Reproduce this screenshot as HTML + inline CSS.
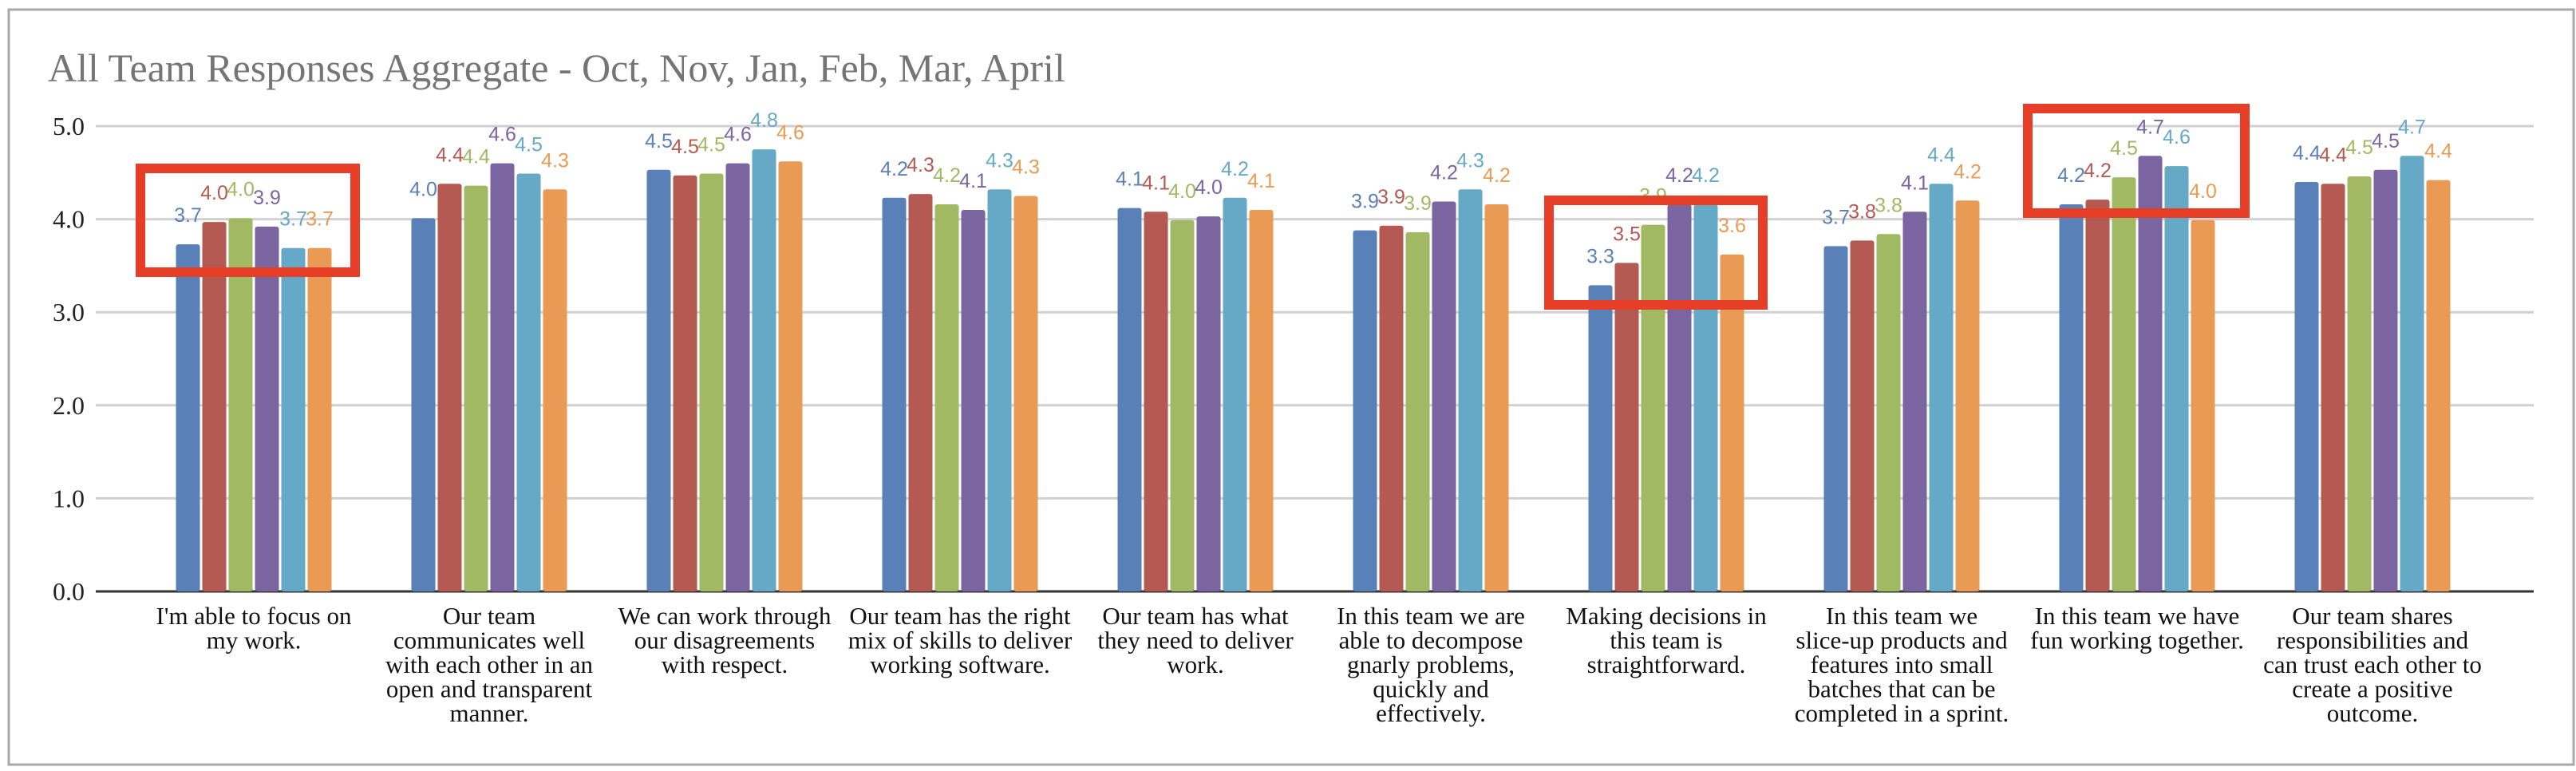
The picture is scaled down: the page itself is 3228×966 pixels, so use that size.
<!DOCTYPE html>
<html><head><meta charset="utf-8">
<style>
html,body{margin:0;padding:0;background:#fff;}
svg{display:block;}
</style></head>
<body>
<svg id="chart" width="3228" height="966" viewBox="0 0 3228 966" xmlns="http://www.w3.org/2000/svg">
<rect x="11" y="12" width="3214" height="946" fill="#fff" stroke="#a8a8a8" stroke-width="3"/>
<text x="60" y="102" font-family="Liberation Serif, serif" font-size="50" fill="#757575">All Team Responses Aggregate - Oct, Nov, Jan, Feb, Mar, April</text>
<g id="grid"></g><g id="bars"></g><g id="labels"></g><g id="xlabels"></g>
<g id="boxes">
<rect x="176" y="211" width="269" height="130" fill="none" stroke="#e63e27" stroke-width="12"/>
<rect x="1941" y="251" width="268" height="131" fill="none" stroke="#e63e27" stroke-width="12"/>
<rect x="2541" y="136" width="272" height="131" fill="none" stroke="#e63e27" stroke-width="12"/>
</g>
</svg>
<script>
const categories = [
 ["I'm able to focus on","my work."],
 ["Our team","communicates well","with each other in an","open and transparent","manner."],
 ["We can work through","our disagreements","with respect."],
 ["Our team has the right","mix of skills to deliver","working software."],
 ["Our team has what","they need to deliver","work."],
 ["In this team we are","able to decompose","gnarly problems,","quickly and","effectively."],
 ["Making decisions in","this team is","straightforward."],
 ["In this team we","slice-up products and","features into small","batches that can be","completed in a sprint."],
 ["In this team we have","fun working together."],
 ["Our team shares","responsibilities and","can trust each other to","create a positive","outcome."]
];
const seriesNames = ["Oct","Nov","Jan","Feb","Mar","April"];
const octValues   = [3.73,4.01,4.53,4.23,4.12,3.88,3.29,3.71,4.16,4.40];
const novValues   = [3.97,4.38,4.47,4.27,4.08,3.93,3.53,3.77,4.21,4.38];
const janValues   = [4.01,4.36,4.49,4.16,3.99,3.86,3.94,3.84,4.45,4.46];
const febValues   = [3.92,4.60,4.60,4.10,4.03,4.19,4.16,4.08,4.68,4.53];
const marValues   = [3.69,4.49,4.75,4.32,4.23,4.32,4.16,4.38,4.57,4.68];
const aprilValues = [3.69,4.32,4.62,4.25,4.10,4.16,3.62,4.20,3.99,4.42];
const yTicks = [0,1,2,3,4,5];
const yTickLabels = ["0.0","1.0","2.0","3.0","4.0","5.0"];

const series = [octValues,novValues,janValues,febValues,marValues,aprilValues];
const colors = ["#5a80b8","#b55a52","#a2b964","#7a65a0","#66a9c6","#e99b55"];
const NS = "http://www.w3.org/2000/svg";
const plotL = 120, plotR = 3175, y0 = 741, yTop = 158, yMax = 5;
const yScale = v => y0 - (v / yMax) * (y0 - yTop);
const firstCenter = 318, pitch = 295, barW = 30, barStep = 33;
const xCenter = i => firstCenter + i * pitch;
const xBar = (i, s) => xCenter(i) - (series.length * barStep) / 2 + s * barStep + 1.5;

function mk(tag, attrs, parent){
  const e = document.createElementNS(NS, tag);
  for (const k in attrs) e.setAttribute(k, attrs[k]);
  parent.appendChild(e); return e;
}
const grid = document.getElementById('grid');
yTicks.forEach((t, k) => {
  const y = yScale(t);
  const ln = mk('line', {x1: plotL, x2: plotR, y1: y, y2: y, stroke: t === 0 ? '#333' : '#d0d0d0', 'stroke-width': 3}, grid);
  
  
  const tx = mk('text', {x: 106, y: y + 11, 'text-anchor': 'end', 'font-family': 'Liberation Serif, serif', 'font-size': 32, fill: '#222'}, grid);
  tx.textContent = yTickLabels[k];
  
  
});
const bars = document.getElementById('bars'), labels = document.getElementById('labels');
series.forEach((vals, s) => {
  vals.forEach((v, i) => {
    const x = xBar(i, s), y = yScale(v);
    const r = mk('rect', {x: x, y: y, width: barW, height: y0 - y, rx: 3, fill: colors[s]}, bars);
    
    
    const t = mk('text', {x: x + barW / 2, y: y - 28, 'text-anchor': 'middle', 'font-family': 'Liberation Sans, sans-serif', 'font-size': 25, fill: colors[s]}, labels);
    t.textContent = v.toFixed(1);
    
    
  });
});
const xl = document.getElementById('xlabels');
categories.forEach((lines, i) => {
  const t = mk('text', {x: xCenter(i), y: 782, 'text-anchor': 'middle', 'font-family': 'Liberation Serif, serif', 'font-size': 31, fill: '#111'}, xl);
  
  
  lines.forEach((ln, j) => {
    const ts = mk('tspan', {x: xCenter(i), dy: j === 0 ? 0 : 30.5}, t);
    ts.textContent = ln;
  });
});
</script>
</body></html>
